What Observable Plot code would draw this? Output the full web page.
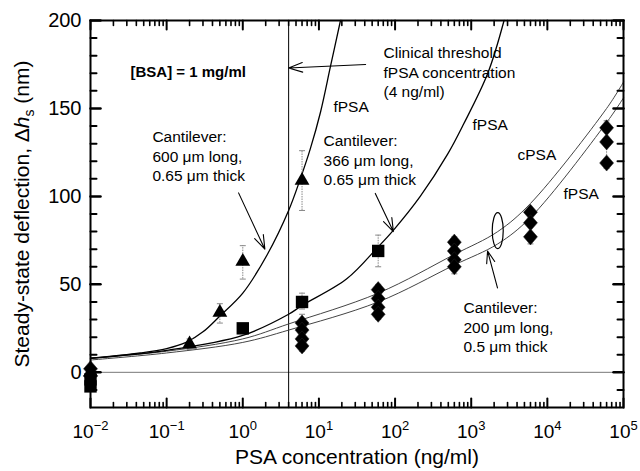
<!DOCTYPE html>
<html><head><meta charset="utf-8">
<script src="https://cdn.jsdelivr.net/npm/d3@7"></script>
<script src="https://cdn.jsdelivr.net/npm/@observablehq/plot@0.6"></script>
<style>
html,body{margin:0;padding:0;background:#fff;}
#chart svg{font-family:"Liberation Sans", Arial, sans-serif;}
</style></head><body><div id="chart"></div>
<script>
// ---- data ----
const triX = [0.01, 0.2, 0.5, 1, 6];
const triY = [0, 16, 34, 63, 109];
const sqX = [0.01, 0.01, 1, 6, 60];
const sqY = [-4, -8, 25, 40, 69];
const diaX = [0.01, 0.01, 6, 6, 6, 6, 60, 60, 60, 60, 600, 600, 600, 600, 6000, 6000, 6000, 60000, 60000, 60000];
const diaY = [2, -2, 28, 24, 19, 15, 47, 42, 37, 33, 74, 69, 64, 60, 91, 85, 77, 139, 131, 119];
const errX  = [0.2, 0.5, 1, 6, 6, 60, 6, 60, 600, 6000, 60000];
const errLo = [13, 28, 53, 92, 36, 60, 12, 30, 56, 73, 116];
const errHi = [19, 39, 72, 126, 45, 78, 33, 50, 77, 93, 143];

const fit600X = [0.01, 0.045, 0.1, 0.18, 0.3, 0.5, 1, 2.1, 4, 5.7, 7.7, 10.5, 14.2, 19.2];
const fit600Y = [8, 11, 13.5, 17, 23, 32, 45, 67, 92, 110, 127, 148, 174, 200];
const fit366X = [0.01, 0.1, 1, 4, 6, 23, 59, 96, 214, 490, 792, 1650, 2700];
const fit366Y = [8, 12.5, 21, 33, 38, 53, 71, 81, 100, 124, 141, 170, 200];
const fit200X = [0.01, 0.1, 1, 4, 60, 600, 2230, 6000, 60000, 100000];
const fitCY   = [8, 12, 19, 27.5, 45, 67, 80, 96, 150, 165];
const fitFY   = [7, 11, 17, 24, 40, 61, 73, 88, 142, 156];

const xMajor = [0.01, 0.1, 1, 10, 100, 1000, 10000, 100000];
const xExp   = ["\u22122", "\u22121", "0", "1", "2", "3", "4", "5"];
const yMajor = [0, 50, 100, 150, 200];
const yLabels = ["0", "50", "100", "150", "200"];

const noteText = ["Clinical threshold\nfPSA concentration\n(4 ng/ml)", "fPSA", "fPSA", "cPSA", "fPSA",
  "Cantilever:\n600 \u03bcm long,\n0.65 \u03bcm thick", "Cantilever:\n366 \u03bcm long,\n0.65 \u03bcm thick",
  "Cantilever:\n200 \u03bcm long,\n0.5 \u03bcm thick"];
const noteX = [70.5, 15.5, 1040, 4055, 16300, 0.065, 11.5, 792];
const noteY = [171, 151.7, 141.5, 124.4, 102.3, 123.3, 121, 26.1];
const bsaText = ["[BSA] = 1 mg/ml"];
const bsaX = [0.0335], bsaY = [170.5];

const arrX1 = [41, 0.88, 55, 2213], arrY1 = [175, 102, 101.7, 48];
const arrX2 = [4, 1.95, 95, 1640],  arrY2 = [173, 70, 80, 69];

const threshold = [4];
const ovalX = [2230], ovalY = [80.5];

// ---- tables ----
const zip = (xs, ys) => xs.map((x, i) => ({x, y: ys[i]}));
const tri = zip(triX, triY), sq = zip(sqX, sqY), dia = zip(diaX, diaY);
const err = errX.map((x, i) => ({x, lo: errLo[i], hi: errHi[i]}));
const caps = err.flatMap(d => [{x: d.x, y: d.lo}, {x: d.x, y: d.hi}]);
const arrows = arrX1.map((x, i) => ({x1: x, y1: arrY1[i], x2: arrX2[i], y2: arrY2[i]}));
const notes = noteText.map((t, i) => ({t, x: noteX[i], y: noteY[i]}));

const xMinor = xMajor.slice(0, -1).flatMap(m => [2,3,4,5,6,7,8,9].map(k => k * m));
const yMinor = d3.range(-10, 200, 10).filter(v => v % 50 !== 0);

const tickShape = {draw(ctx, l) { ctx.moveTo(0, 0); ctx.lineTo(0, -l); }};
const capSym = {draw(ctx) { ctx.moveTo(-3, 0); ctx.lineTo(3, 0); }};
const diamondSym = {draw(ctx, size) { const r = Math.sqrt(size / Math.PI); const h = r * 1.15;
  ctx.moveTo(0, -h); ctx.lineTo(r, 0); ctx.lineTo(0, h); ctx.lineTo(-r, 0); ctx.closePath(); }};
const ovalSym = {draw(ctx) { const rx = 5.5, ry = 18, k = 0.5523;
  ctx.moveTo(rx, 0);
  ctx.bezierCurveTo(rx, ry * k, rx * k, ry, 0, ry);
  ctx.bezierCurveTo(-rx * k, ry, -rx, ry * k, -rx, 0);
  ctx.bezierCurveTo(-rx, -ry * k, -rx * k, -ry, 0, -ry);
  ctx.bezierCurveTo(rx * k, -ry, rx, -ry * k, rx, 0);
  ctx.closePath(); }};

const tickMarks = (vals, axis, anchor, rot, len, sw) =>
  Plot.vector(vals, {[axis]: d => d, frameAnchor: anchor, rotate: rot, length: len, anchor: "start",
    shape: tickShape, stroke: "black", strokeWidth: sw});

const chart = Plot.plot({
  width: 640, height: 471,
  marginLeft: 90, marginRight: 17, marginTop: 20, marginBottom: 64,
  style: {fontFamily: "'Liberation Sans', Arial, sans-serif", background: "#fff", color: "#000"},
  x: {type: "log", domain: [0.01, 100000]},
  y: {domain: [-20, 200]},
  marks: [
    Plot.ruleY([0], {stroke: "#777", strokeWidth: 1}),
    Plot.ruleX(threshold, {stroke: "black", strokeWidth: 1}),
    Plot.line(zip(fit200X, fitCY), {x: "x", y: "y", curve: "catmull-rom", stroke: "#444", strokeWidth: 1}),
    Plot.line(zip(fit200X, fitFY), {x: "x", y: "y", curve: "catmull-rom", stroke: "#444", strokeWidth: 1}),
    Plot.line(zip(fit366X, fit366Y), {x: "x", y: "y", curve: "catmull-rom", stroke: "black", strokeWidth: 1.3}),
    Plot.line(zip(fit600X, fit600Y), {x: "x", y: "y", curve: "catmull-rom", stroke: "black", strokeWidth: 1.3}),
    Plot.ruleX(err, {x: "x", y1: "lo", y2: "hi", stroke: "#888", strokeWidth: 1, strokeDasharray: "1.5,1"}),
    Plot.dot(caps, {x: "x", y: "y", symbol: capSym, stroke: "#888", fill: "none", strokeWidth: 1}),
    Plot.dot(dia, {x: "x", y: "y", symbol: diamondSym, r: 7, fill: "black", stroke: "#222", strokeWidth: 0.5}),
    Plot.dot(sq, {x: "x", y: "y", symbol: "square", r: 7, fill: "black"}),
    Plot.dot(tri, {x: "x", y: "y", symbol: "triangle", r: 5.5, fill: "black"}),
    Plot.dot(zip(ovalX, ovalY), {x: "x", y: "y", symbol: ovalSym, r: 5, fill: "none", stroke: "black", strokeWidth: 1.2}),
    Plot.arrow(arrows, {x1: "x1", y1: "y1", x2: "x2", y2: "y2", stroke: "black", strokeWidth: 1.1, headLength: 20, headAngle: 38}),
    Plot.text(notes, {x: "x", y: "y", text: "t", textAnchor: "start", lineAnchor: "middle", lineHeight: 1.25, fontSize: 15.5}),
    Plot.text(zip(bsaX, bsaY), {x: "x", y: "y", text: () => bsaText[0], textAnchor: "start", fontSize: 15, fontWeight: "bold"}),
    Plot.frame({stroke: "black", strokeWidth: 2}),
    tickMarks(xMajor, "x", "bottom", 0, 9, 2),
    tickMarks(xMinor, "x", "bottom", 0, 5, 1.6),
    tickMarks(xMajor, "x", "top", 180, 9, 2),
    tickMarks(xMinor, "x", "top", 180, 5, 1.6),
    tickMarks(yMajor, "y", "left", 90, 10, 2.5),
    tickMarks(yMinor, "y", "left", 90, 6, 2),
    tickMarks(yMajor, "y", "right", -90, 10, 2.5),
    tickMarks(yMinor, "y", "right", -90, 6, 2),
    Plot.axisX(xMajor, {tickSize: 0, tickPadding: 17, fontSize: 19, label: null,
      tickFormat: d => "10^" + xExp[xMajor.indexOf(d)]}),
    Plot.axisY(yMajor, {tickSize: 0, tickPadding: 9, fontSize: 20, label: null,
      tickFormat: d => yLabels[yMajor.indexOf(d)]}),
    Plot.text(["PSA concentration (ng/ml)"], {frameAnchor: "bottom", dy: 50, text: d => d, fontSize: 21,
      textAnchor: "middle", lineAnchor: "middle"}),
    Plot.text(["Steady-state deflection, \u0394hs (nm)"], {frameAnchor: "left", dx: -68, rotate: -90, text: d => d, fontSize: 21,
      textAnchor: "middle", lineAnchor: "middle"})
  ]
});

// superscripts, italics, subscripts
d3.select(chart).selectAll("text").each(function() {
  const s = d3.select(this);
  const t = this.textContent;
  let m = t.match(/^10\^(.+)$/);
  if (m) {
    s.text("");
    s.append("tspan").text("10");
    s.append("tspan").attr("dy", "-8").attr("font-size", "13").text(m[1]);
  } else if (t.startsWith("Steady-state")) {
    s.text("");
    s.append("tspan").text("Steady-state deflection, \u0394");
    s.append("tspan").attr("font-style", "italic").text("h");
    s.append("tspan").attr("dy", "5").attr("font-size", "14").text("s");
    s.append("tspan").attr("dy", "-5").text(" (nm)");
  }
});

document.getElementById("chart").appendChild(chart);
</script>
</body></html>
